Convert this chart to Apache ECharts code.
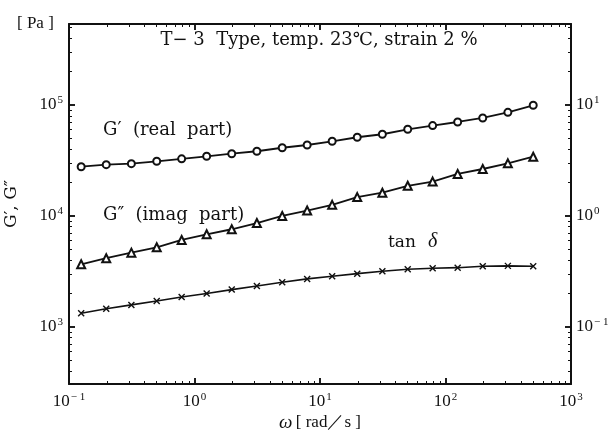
<!DOCTYPE html>
<html>
<head>
<meta charset="utf-8">
<script src="https://cdn.jsdelivr.net/npm/echarts@6/dist/echarts.min.js"></script>
<style>
  html, body { margin: 0; padding: 0; background: #fff; }
  #chart { width: 613px; height: 430px; }
</style>
</head>
<body>
<div id="chart"></div>
<script>
// angular frequency ω [rad/s]
const omega = [0.125, 0.198, 0.314, 0.5, 0.79, 1.25, 1.98, 3.14, 5.0, 7.9,
  12.5, 19.8, 31.4, 50, 79, 125, 198, 314, 500]
// G' (real part) [Pa]
const gReal = [27800, 29000, 29600, 31100, 32700, 34500, 36400, 38300, 41200, 43600,
  47100, 51200, 54500, 60400, 65200, 70300, 76400, 85900, 99400]
// G'' (imag part) [Pa]
const gImag = [3670, 4160, 4670, 5220, 6080, 6840, 7590, 8640, 10000, 11200,
  12600, 14800, 16200, 18700, 20400, 23900, 26500, 29800, 34200]
// tan δ (right axis)
const tanDelta = [0.133, 0.146, 0.158, 0.171, 0.186, 0.200, 0.217, 0.234, 0.253, 0.271,
  0.286, 0.302, 0.318, 0.331, 0.338, 0.342, 0.352, 0.355, 0.352]

// axis ranges
const xRange = [0.1, 1000]
const gRange = [306, 537000]
const tRange = [0.0306, 53.7]

const SERIF = '"Liberation Serif", "DejaVu Serif", serif'
const WIDE = '"DejaVu Serif", serif'
const INK = '#111'

// plot frame
const PL = 69, PT = 24, PW = 502, PH = 360

// 10^n labels with superscript exponent, blank for non-decade ends
function decadeLabel(v) {
  const e = Math.log10(v)
  if (Math.abs(e - Math.round(e)) > 1e-6) return ''
  const n = Math.round(e)
  return '{b|10}{s|' + (n < 0 ? '− ' + (-n) : n) + '}'
}
const richLabel = {
  b: { fontFamily: SERIF, fontSize: 17, color: INK },
  s: { fontFamily: SERIF, fontSize: 11, color: INK, verticalAlign: 'bottom', padding: [0, 0, 9, 1] },
}

const axisBase = {
  type: 'log',
  logBase: 10,
  axisLine: { show: true, lineStyle: { color: INK, width: 2 } },
  axisTick: { show: true, inside: true, length: 6, lineStyle: { color: INK, width: 1.5 } },
  minorTick: { show: true, splitNumber: 9, length: 3, lineStyle: { color: INK, width: 1 } },
  splitLine: { show: false },
  minorSplitLine: { show: false },
}

const grids = [{ left: PL, top: PT, width: PW, height: PH, outerBoundsMode: 'none' }]
const xAxes = [
  {
    ...axisBase,
    gridIndex: 0,
    position: 'bottom',
    min: xRange[0], max: xRange[1],
    axisLabel: { formatter: decadeLabel, rich: richLabel, margin: 8 },
    name: '{w|ω} {t|[ rad／s ]}',
    nameLocation: 'middle',
    nameGap: 29,
    nameMoveOverlap: false,
    nameTextStyle: {
      rich: {
        w: { fontFamily: SERIF, fontSize: 19, fontStyle: 'italic', color: INK },
        t: { fontFamily: SERIF, fontSize: 17, color: INK },
      },
    },
  },
  {
    ...axisBase,
    gridIndex: 0,
    position: 'top',
    min: xRange[0], max: xRange[1],
    axisLabel: { show: false },
  },
]
const yAxes = [
  {
    ...axisBase,
    gridIndex: 0,
    position: 'left',
    min: gRange[0], max: gRange[1],
    axisLabel: { formatter: decadeLabel, rich: richLabel, margin: 6 },
    name: 'G′, G″',
    nameLocation: 'middle',
    nameRotate: 90,
    nameGap: 49,
    nameMoveOverlap: false,
    nameTextStyle: { fontFamily: WIDE, fontSize: 17, color: INK },
  },
  {
    ...axisBase,
    gridIndex: 0,
    position: 'right',
    min: tRange[0], max: tRange[1],
    axisLabel: { formatter: decadeLabel, rich: richLabel, margin: 5 },
    name: 'tan δ',
    nameLocation: 'middle',
    nameRotate: 90,
    nameGap: 44,
    nameMoveOverlap: false,
    nameTextStyle: { fontFamily: SERIF, fontSize: 17, color: INK },
  },
]

// inward tick marks along the frame, drawn as split lines of thin strip grids
function tickStrip(side, len, minor) {
  const gi = grids.length
  const vertical = side === 'left' || side === 'right'
  const rect = vertical
    ? { left: side === 'left' ? PL : PL + PW - len, top: PT, width: len, height: PH }
    : { left: PL, top: side === 'top' ? PT : PT + PH - len, width: PW, height: len }
  grids.push({ ...rect, outerBoundsMode: 'none' })
  const logAxis = {
    type: 'log', logBase: 10, gridIndex: gi,
    axisLine: { show: false }, axisTick: { show: false }, axisLabel: { show: false },
    minorTick: { show: false, splitNumber: 9 },
    splitLine: { show: !minor, lineStyle: { color: INK, width: 1.5 } },
    minorSplitLine: { show: minor, lineStyle: { color: INK, width: 1 } },
  }
  const flat = {
    type: 'value', gridIndex: gi, min: 0, max: 1,
    axisLine: { show: false }, axisTick: { show: false }, axisLabel: { show: false },
    splitLine: { show: false },
  }
  if (vertical) {
    const r = side === 'left' ? gRange : tRange
    yAxes.push({ ...logAxis, min: r[0], max: r[1] })
    xAxes.push(flat)
  } else {
    xAxes.push({ ...logAxis, min: xRange[0], max: xRange[1] })
    yAxes.push(flat)
  }
}
for (const side of ['left', 'right', 'top', 'bottom']) {
  tickStrip(side, 6, false)
  tickStrip(side, 3, true)
}

const chart = echarts.init(document.getElementById('chart'))
chart.setOption({
  animation: false,
  backgroundColor: '#fff',
  grid: grids,
  xAxis: xAxes,
  yAxis: yAxes,
  graphic: [
    { type: 'text', left: 17, top: 15, style: { text: '[ Pa ]', font: '17px ' + SERIF, fill: INK } },
    { type: 'text', x: 319, y: 40, style: { text: 'T− 3  Type, temp. 23℃, strain 2 %', font: '18px ' + WIDE, fill: INK, align: 'center', verticalAlign: 'middle' } },
    { type: 'text', x: 103, y: 130, style: { text: 'G′  (real  part)', font: '18px ' + WIDE, fill: INK, verticalAlign: 'middle' } },
    { type: 'text', x: 103, y: 215, style: { text: 'G″  (imag  part)', font: '18px ' + WIDE, fill: INK, verticalAlign: 'middle' } },
    { type: 'text', x: 388, y: 243, style: { text: 'tan', font: '17px ' + WIDE, fill: INK, verticalAlign: 'middle' } },
    { type: 'text', x: 428, y: 242, style: { text: 'δ', font: 'italic 20px ' + SERIF, fill: INK, verticalAlign: 'middle' } },
  ],
  series: [
    {
      name: "G' (real part)",
      type: 'line',
      xAxisIndex: 0, yAxisIndex: 0,
      symbol: 'emptyCircle', symbolSize: 7,
      lineStyle: { color: INK, width: 1.8 },
      itemStyle: { color: INK, borderColor: INK, borderWidth: 1.2 },
      data: omega.map((w, i) => [w, gReal[i]]),
    },
    {
      name: "G'' (imag part)",
      type: 'line',
      xAxisIndex: 0, yAxisIndex: 0,
      symbol: 'emptyTriangle', symbolSize: 8,
      lineStyle: { color: INK, width: 1.8 },
      itemStyle: { color: INK, borderColor: INK, borderWidth: 1.2 },
      data: omega.map((w, i) => [w, gImag[i]]),
    },
    {
      name: 'tan δ',
      type: 'line',
      xAxisIndex: 0, yAxisIndex: 1,
      symbol: 'path://M0,0L10,10M10,0L0,10', symbolSize: 6,
      lineStyle: { color: INK, width: 1.6 },
      itemStyle: { color: INK, borderColor: INK, borderWidth: 1.4 },
      data: omega.map((w, i) => [w, tanDelta[i]]),
    },
  ],
})
</script>
</body>
</html>
